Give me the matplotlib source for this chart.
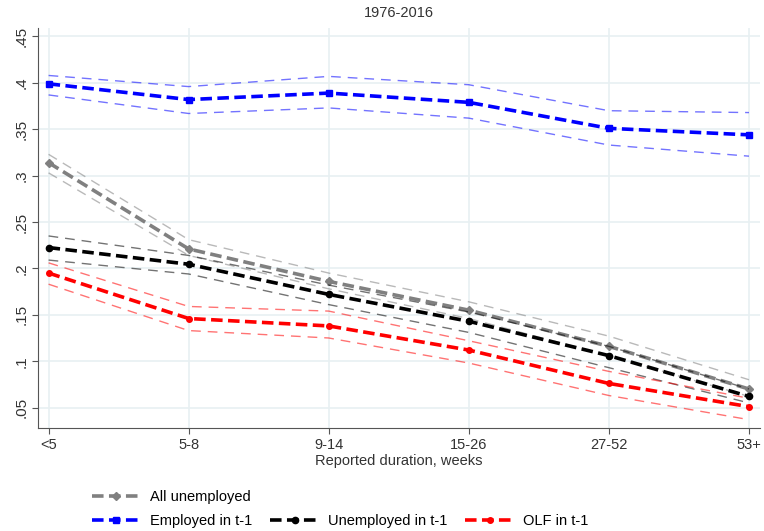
'''
Reported unemployment duration by labour-force status in t-1, 1976-2016.
'''

import matplotlib
matplotlib.use('Agg')
import matplotlib.pyplot as plt
from matplotlib.lines import Line2D

plt.rcParams['font.family'] = ['Liberation Sans', 'DejaVu Sans']

durations = ['<5', '5-8', '9-14', '15-26', '27-52', '53+']

all_unemp = [0.314, 0.221, 0.186, 0.155, 0.116, 0.070]
all_unemp_hi = [0.323, 0.231, 0.195, 0.164, 0.127, 0.080]
all_unemp_lo = [0.303, 0.214, 0.178, 0.146, 0.106, 0.062]

employed = [0.399, 0.382, 0.389, 0.379, 0.351, 0.344]
employed_hi = [0.408, 0.396, 0.407, 0.398, 0.370, 0.368]
employed_lo = [0.387, 0.367, 0.373, 0.362, 0.333, 0.321]

unemployed = [0.2225, 0.2045, 0.172, 0.143, 0.106, 0.062]
unemployed_hi = [0.235, 0.214, 0.182, 0.153, 0.116, 0.070]
unemployed_lo = [0.209, 0.194, 0.161, 0.131, 0.093, 0.055]

olf = [0.195, 0.146, 0.138, 0.112, 0.076, 0.051]
olf_hi = [0.206, 0.159, 0.154, 0.122, 0.089, 0.060]
olf_lo = [0.183, 0.133, 0.125, 0.098, 0.063, 0.037]

yticks = [0.05, 0.1, 0.15, 0.2, 0.25, 0.3, 0.35, 0.4, 0.45]
ytick_labels = ['.05', '.1', '.15', '.2', '.25', '.3', '.35', '.4', '.45']

series = [
    ('All unemployed', all_unemp, all_unemp_hi, all_unemp_lo, '#808080', 'D', 4.5),
    ('Employed in t-1', employed, employed_hi, employed_lo, '#0000ff', 's', 4.5),
    ('Unemployed in t-1', unemployed, unemployed_hi, unemployed_lo, 'black', 'o', 4.5),
    ('OLF in t-1', olf, olf_hi, olf_lo, '#ff0000', 'o', 4),
]

fig = plt.figure(figsize=(7.64, 5.31), dpi=100)
ax = fig.add_axes([0.05, 0.194, 0.945, 0.753])

x = list(range(1, len(durations) + 1))
handles = {}
for label, mid, hi, lo, color, marker, msize in series:
    for band in (hi, lo):
        ax.plot(x, band, color=color, lw=1.0, alpha=0.55,
                dashes=(7, 5))
    line, = ax.plot(x, mid, color=color, lw=2.6, dashes=(3.2, 1.5),
                    marker=marker, markersize=msize, label=label)
    handles[label] = line

ax.set_xlim(0.926, 6.08)
ax.set_ylim(0.028, 0.459)
ax.set_xticks(x)
ax.set_xticklabels(durations, fontsize=10.5, color='#333333')
ax.set_yticks(yticks)
ax.set_yticklabels(ytick_labels, rotation=90, va='center', fontsize=11,
                   color='#333333')
ax.grid(True, color='#e8f0f2', lw=1.2)
ax.set_axisbelow(True)
for side in ('top', 'right'):
    ax.spines[side].set_visible(False)
for side in ('left', 'bottom'):
    ax.spines[side].set_color('#555555')
ax.tick_params(direction='out', length=4, color='#555555', pad=3)
ax.set_xlabel('Reported duration, weeks', fontsize=10.5, color='#333333',
              labelpad=2)
ax.set_title('1976-2016', fontsize=10.5, color='#333333', pad=8)

blank = Line2D([], [], linestyle='none')
legend_handles = [
    handles['All unemployed'], handles['Employed in t-1'],
    blank, handles['Unemployed in t-1'],
    blank, handles['OLF in t-1'],
]
legend_labels = ['All unemployed', 'Employed in t-1', '', 'Unemployed in t-1',
                 '', 'OLF in t-1']
fig.legend(legend_handles, legend_labels, ncol=3, loc='upper left',
           bbox_to_anchor=(0.12, 0.077), frameon=False, fontsize=10.5,
           handlelength=3.4, handletextpad=0.6, columnspacing=1.2,
           labelspacing=0.7, borderaxespad=0, borderpad=0)

fig.savefig('out.png', dpi=100)
